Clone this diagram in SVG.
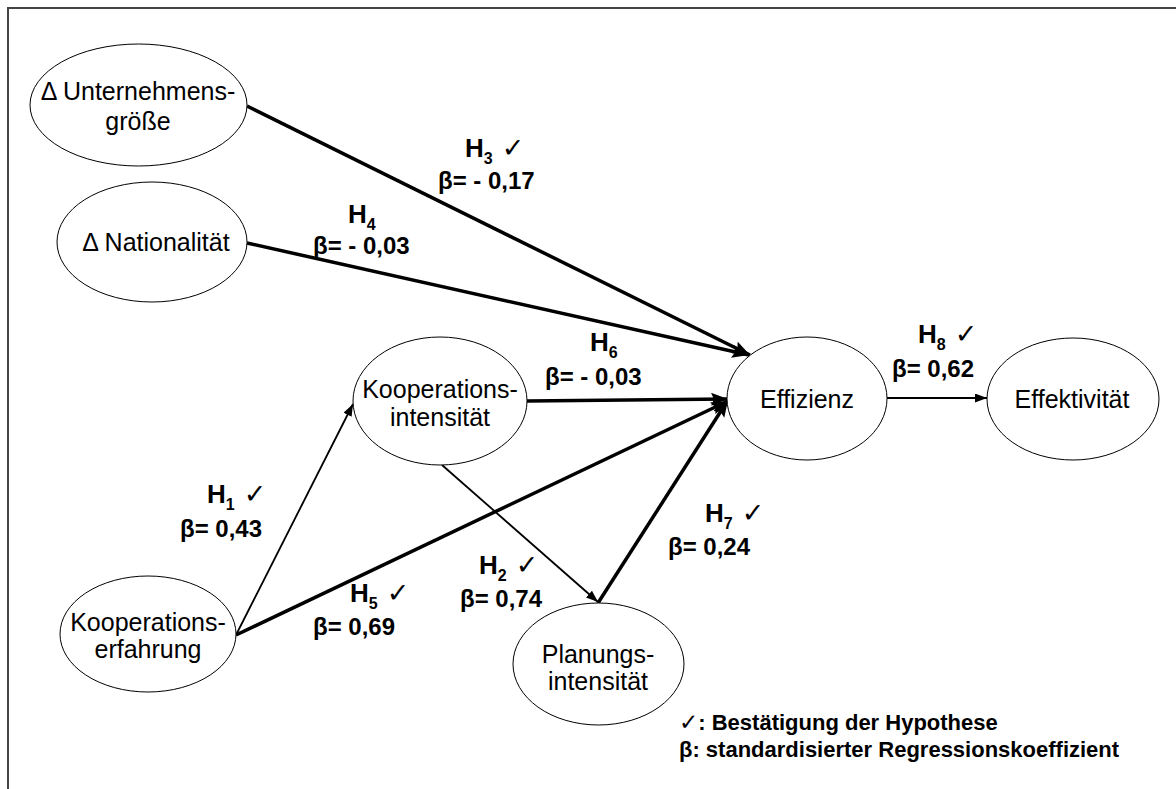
<svg xmlns="http://www.w3.org/2000/svg" width="1176" height="789" viewBox="0 0 1176 789">
<style>
.frame{fill:none;stroke:#444;stroke-width:2}
.node ellipse{fill:#fff;stroke:#000;stroke-width:1}
.nt{font-family:"Liberation Sans",Arial,sans-serif;font-size:25px;fill:#000;text-anchor:middle}
.thick{stroke:#000;stroke-width:3.5;fill:none;marker-end:url(#ahT)}
.thin{stroke:#000;stroke-width:1.8;fill:none;marker-end:url(#ahS)}
.lbl{font-family:"Liberation Sans",Arial,sans-serif;font-weight:bold;fill:#000}
.h{font-size:26px}
.sub{font-size:16px}
.ck{font-family:"DejaVu Sans",sans-serif;font-size:27px;font-weight:bold}
.ckl{font-family:"DejaVu Sans",sans-serif;font-size:23px;font-weight:bold}
.b{font-size:24px}
.leg{font-family:"Liberation Sans",Arial,sans-serif;font-weight:bold;font-size:22px;fill:#000}
</style>
<defs>
<marker id="ahT" markerUnits="userSpaceOnUse" markerWidth="18" markerHeight="14" refX="17" refY="6.5" orient="auto">
<path d="M0,0 L17,6.5 L0,13 L3,6.5 z" fill="#000"/>
</marker>
<marker id="ahS" markerUnits="userSpaceOnUse" markerWidth="13" markerHeight="10" refX="12" refY="4.5" orient="auto">
<path d="M0,0 L12,4.5 L0,9 z" fill="#000"/>
</marker>
</defs>
<rect width="1176" height="789" fill="#fff"/>
<path class="frame" d="M8,789 L8,8 L1176,8"/>

<g id="connectors">
<line class="thick" x1="247" y1="106" x2="750" y2="355"/>
<line class="thick" x1="247" y1="243" x2="749" y2="355"/>
<line class="thick" x1="527" y1="401" x2="728" y2="399"/>
<line class="thick" x1="236" y1="635" x2="728" y2="401"/>
<line class="thick" x1="598" y1="603" x2="728" y2="400"/>
<line class="thin" x1="236" y1="635" x2="353" y2="404"/>
<line class="thin" x1="442" y1="465" x2="598" y2="602"/>
<line class="thin" x1="887" y1="398" x2="987" y2="398"/>
</g>

<g id="n-unternehmensgroesse" class="node">
<ellipse cx="138.5" cy="105" rx="108.5" ry="61"/>
<text class="nt" x="138" y="100">Δ Unternehmens-</text>
<text class="nt" x="138" y="130">größe</text>
</g>
<g id="n-nationalitaet" class="node">
<ellipse cx="152" cy="242" rx="95" ry="60"/>
<text class="nt" x="156" y="251">Δ Nationalität</text>
</g>
<g id="n-kooperationsintensitaet" class="node">
<ellipse cx="440" cy="401" rx="87" ry="64"/>
<text class="nt" x="440" y="398">Kooperations-</text>
<text class="nt" x="440" y="426">intensität</text>
</g>
<g id="n-effizienz" class="node">
<ellipse cx="807" cy="398.5" rx="80" ry="61.5"/>
<text class="nt" x="807" y="408">Effizienz</text>
</g>
<g id="n-effektivitaet" class="node">
<ellipse cx="1073" cy="399" rx="86" ry="61"/>
<text class="nt" x="1072" y="408">Effektivität</text>
</g>
<g id="n-kooperationserfahrung" class="node">
<ellipse cx="148" cy="634" rx="88" ry="58"/>
<text class="nt" x="148" y="631">Kooperations-</text>
<text class="nt" x="148" y="658">erfahrung</text>
</g>
<g id="n-planungsintensitaet" class="node">
<ellipse cx="598.5" cy="664" rx="85.5" ry="61"/>
<text class="nt" x="598" y="663">Planungs-</text>
<text class="nt" x="598" y="690">intensität</text>
</g>

<g id="labels">
<text class="lbl h" x="465" y="157">H<tspan class="sub" dy="7">3</tspan><tspan class="ck" dx="9" dy="-7">✓</tspan></text>
<text class="lbl b" x="438" y="189">β= - 0,17</text>
<text class="lbl h" x="348" y="223">H<tspan class="sub" dy="7">4</tspan></text>
<text class="lbl b" x="313" y="254">β= - 0,03</text>
<text class="lbl h" x="590" y="351">H<tspan class="sub" dy="7">6</tspan></text>
<text class="lbl b" x="545" y="385">β= - 0,03</text>
<text class="lbl h" x="918" y="343">H<tspan class="sub" dy="7">8</tspan><tspan class="ck" dx="9" dy="-7">✓</tspan></text>
<text class="lbl b" x="892" y="377">β= 0,62</text>
<text class="lbl h" x="207" y="503">H<tspan class="sub" dy="7">1</tspan><tspan class="ck" dx="9" dy="-7">✓</tspan></text>
<text class="lbl b" x="180" y="537">β= 0,43</text>
<text class="lbl h" x="350" y="602">H<tspan class="sub" dy="7">5</tspan><tspan class="ck" dx="9" dy="-7">✓</tspan></text>
<text class="lbl b" x="313" y="635">β= 0,69</text>
<text class="lbl h" x="479" y="574">H<tspan class="sub" dy="7">2</tspan><tspan class="ck" dx="9" dy="-7">✓</tspan></text>
<text class="lbl b" x="460" y="607">β= 0,74</text>
<text class="lbl h" x="705" y="522">H<tspan class="sub" dy="7">7</tspan><tspan class="ck" dx="9" dy="-7">✓</tspan></text>
<text class="lbl b" x="668" y="555">β= 0,24</text>
</g>

<g id="legend">
<text class="leg" x="679" y="730"><tspan class="ckl">✓</tspan>: Bestätigung der Hypothese</text>
<text class="leg" x="679" y="757">β: standardisierter Regressionskoeffizient</text>
</g>
</svg>
